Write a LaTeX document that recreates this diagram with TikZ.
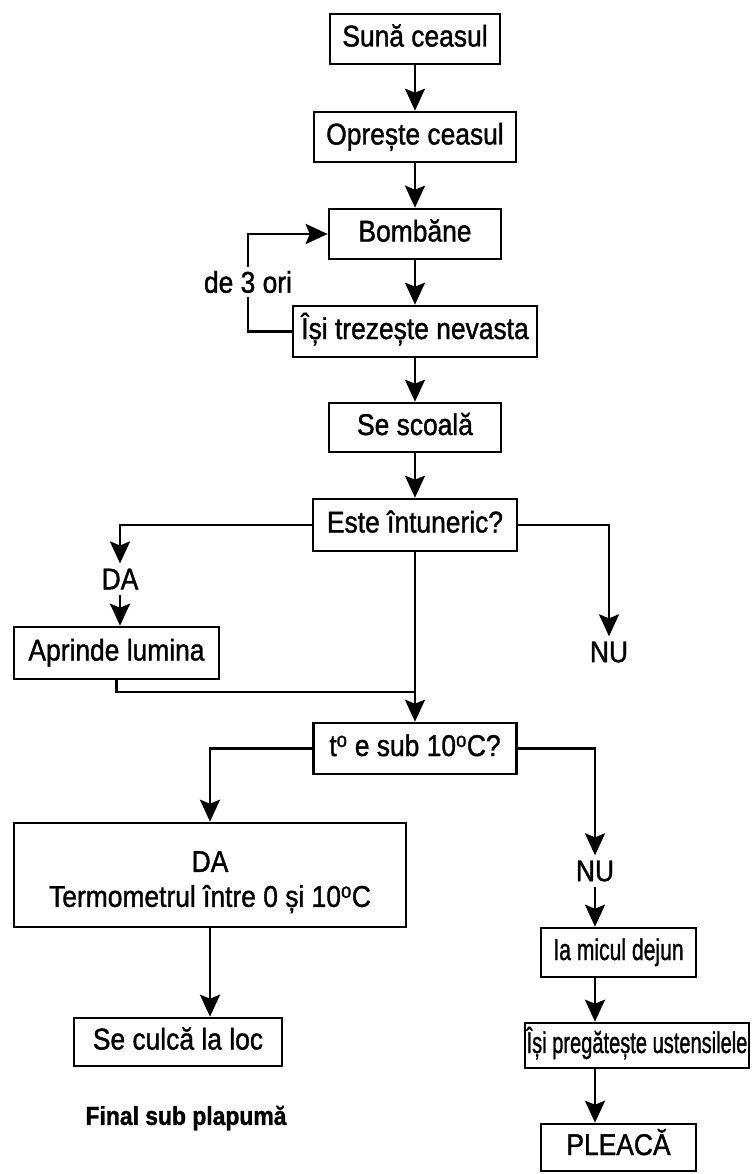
\documentclass[tikz,border=0pt]{standalone}
\usepackage{fontspec}
\setmainfont{Liberation Sans}[FakeStretch=0.88,FakeBold=1.2]
\usepackage{graphicx}
\usetikzlibrary{arrows.meta}
\tikzset{
  txt/.style={font=\fontsize{30}{35}\selectfont},
  box/.style={draw, line width=2.6pt, inner sep=0pt, txt},
  oneline/.style={text height=21pt, text depth=6pt},
  lbl/.style={inner sep=5pt, txt},
  conn/.style={line width=2.6pt},
  arr/.style={line width=2.6pt, -{Stealth[length=22pt,width=20pt,inset=4pt]}},
}
\begin{document}
\begin{tikzpicture}[x=1pt,y=-1pt]
\useasboundingbox (0,0) rectangle (752,1174);
\fill[white] (0,0) rectangle (752,1174);
% top chain
\node[box, oneline, minimum width=170pt, minimum height=50pt] (suna) at (415,39) {Sună ceasul};
\node[box, oneline, minimum width=202pt, minimum height=50pt] (opreste) at (415,137) {Oprește ceasul};
\node[box, oneline, minimum width=172pt, minimum height=50pt] (bomb) at (415,234) {Bombăne};
\node[box, oneline, minimum width=244pt, minimum height=51pt] (trez) at (415,331.5) {Își trezește nevasta};
\node[box, oneline, minimum width=172pt, minimum height=49pt] (scoala) at (415,427.5) {Se scoală};
\node[box, oneline, minimum width=204pt, minimum height=52pt] (este) at (415,525) {Este întuneric?};
\draw[arr] (suna.south) -- (opreste.north);
\draw[arr] (opreste.south) -- (bomb.north);
\draw[arr] (bomb.south) -- (trez.north);
\draw[arr] (trez.south) -- (scoala.north);
\draw[arr] (scoala.south) -- (este.north);
% loop
\coordinate (lp) at (248,282);
\draw[arr] (trez.west) -| (lp) |- (bomb.west);
\node[lbl, fill=white, inner sep=4pt] (de3) at (248,282) {de 3 ori};
% first decision
\node[lbl] (da1) at (120,579) {DA};
\node[box, oneline, minimum width=205pt, minimum height=52pt] (aprinde) at (116.5,653) {Aprinde lumina};
\node[lbl] (nu1) at (609,652) {NU};
\draw[arr] (este.west) -| (da1.north);
\draw[arr] (da1.south) -- (da1.south |- aprinde.north);
\draw[arr] (este.east) -| (nu1.north);
\coordinate (join) at (415,692);
\draw[conn] (aprinde.south) |- (join);
% second decision
\node[box, oneline, minimum width=203pt, minimum height=51pt] (temp) at (415,748.5) {t\textsuperscript{o} e sub 10\textsuperscript{o}C?};
\draw[arr] (este.south) -- (temp.north);
\node[box, align=center, minimum width=392pt, minimum height=104pt] (dabox) at (210,875) {\rule{0pt}{35pt}DA\\Termometrul între 0 și 10\textsuperscript{o}C};
\node[box, oneline, minimum width=208pt, minimum height=48pt] (culca) at (178,1042) {Se culcă la loc};
\node[lbl, font=\fontsize{26}{30}\selectfont\bfseries] (final) at (186,1118) {Final sub plapumă};
\draw[arr] (temp.west) -| (dabox.north);
\draw[arr] (dabox.south) -- (dabox.south |- culca.north);
% right column
\node[lbl] (nu2) at (595,871) {NU};
\node[box, oneline, minimum width=155pt, minimum height=49pt] (ia) at (618.5,952.5) {\scalebox{0.8}[1]{Ia micul dejun}};
\node[box, oneline, minimum width=224pt, minimum height=45pt] (preg) at (637,1045.5) {\scalebox{0.76}[1]{Își pregătește ustensilele}};
\node[box, oneline, minimum width=155pt, minimum height=47pt] (pleaca) at (618.5,1147.5) {PLEACĂ};
\draw[arr] (temp.east) -| (nu2.north);
\draw[arr] (nu2.south) -- (nu2.south |- ia.north);
\draw[arr] (ia.south -| nu2.south) -- (preg.north -| nu2.south);
\draw[arr] (preg.south -| nu2.south) -- (pleaca.north -| nu2.south);
\end{tikzpicture}
\end{document}
